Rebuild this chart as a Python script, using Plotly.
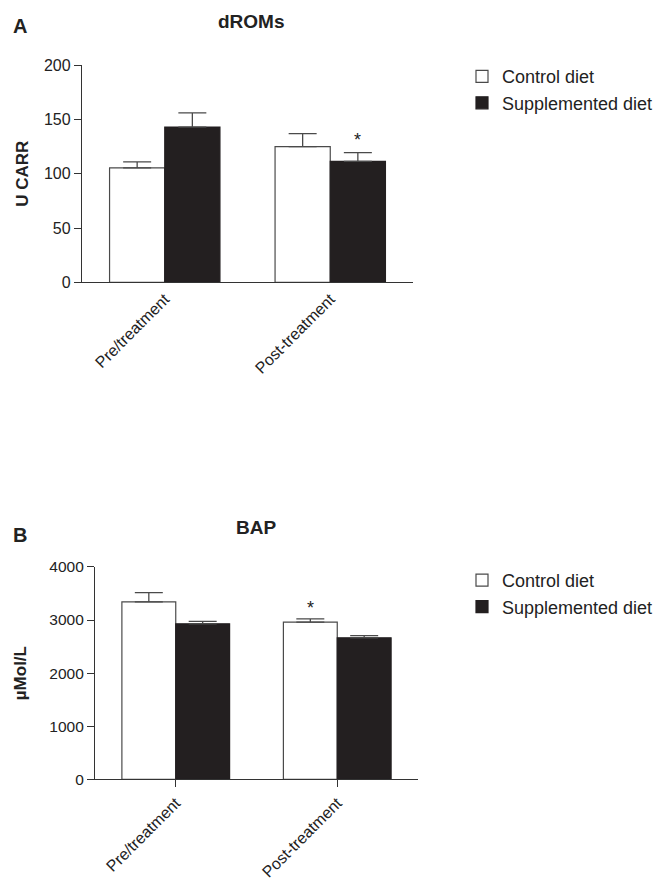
import plotly.graph_objects as go

categories = ["Pre/treatment", "Post-treatment"]
series_names = ["Control diet", "Supplemented diet"]

drom_control = [105.5, 125.0]
drom_control_err = [5.5, 12.0]
drom_supp = [143.0, 111.5]
drom_supp_err = [13.0, 8.0]

bap_control = [3340, 2960]
bap_control_err = [175, 60]
bap_supp = [2930, 2665]
bap_supp_err = [45, 40]

drom_ticks = [0, 50, 100, 150, 200]
bap_ticks = [0, 1000, 2000, 3000, 4000]

OFF = 8
W, H = 668 - 2 * OFF, 889 - 2 * OFF
FONT = "Liberation Sans, Arial, sans-serif"
TXT = "#222222"
AX = "#333333"
BLACK = "#231f20"
EDGE = "#4a4a4a"

# empirical mapping from figure pixels to photographed pixels
SY, OY = 0.981, 16.3


def fx(p):
    return (p - OFF) / W


def fy(p):
    return 1 - ((p - OY) / SY) / H


fig = go.Figure()


def add_pair(ctrl, ctrl_err, supp, supp_err, xa, ya, legend):
    fig.add_trace(go.Bar(
        x=categories, y=ctrl, name=series_names[0], xaxis=xa, yaxis=ya,
        marker=dict(color="white", line=dict(color=EDGE, width=1.2)),
        error_y=dict(type="data", array=ctrl_err, arrayminus=[0] * len(ctrl_err),
                     symmetric=False, color=EDGE, thickness=1.3, width=14),
        legend=legend, offsetgroup="c",
    ))
    fig.add_trace(go.Bar(
        x=categories, y=supp, name=series_names[1], xaxis=xa, yaxis=ya,
        marker=dict(color=BLACK, line=dict(color=BLACK, width=1.2)),
        error_y=dict(type="data", array=supp_err, arrayminus=[0] * len(supp_err),
                     symmetric=False, color=EDGE, thickness=1.3, width=14),
        legend=legend, offsetgroup="s",
    ))


add_pair(drom_control, drom_control_err, drom_supp, drom_supp_err, "x", "y", "legend")
add_pair(bap_control, bap_control_err, bap_supp, bap_supp_err, "x2", "y2", "legend2")

axis_common = dict(showline=True, linecolor=AX, linewidth=1.3, showgrid=False,
                   zeroline=False, tickcolor=AX, ticklen=7, tickwidth=1.3)
tick_font = dict(family=FONT, size=16, color=TXT)
title_font = dict(family=FONT, size=17, color=TXT)
legend_font = dict(family=FONT, size=18, color=TXT)

fig.update_layout(
    width=W, height=H, margin=dict(l=0, r=0, t=0, b=0),
    paper_bgcolor="white", plot_bgcolor="white",
    barmode="group", bargap=0.333, bargroupgap=0,
    font=dict(family=FONT, color=TXT),
    xaxis=dict(domain=[fx(82), fx(413)], anchor="y", type="category",
               range=[-0.5, 1.5], ticks="", tickangle=-45, tickfont=tick_font,
               **axis_common),
    yaxis=dict(domain=[fy(285), fy(65)], anchor="x", range=[0, 200],
               tickvals=drom_ticks, ticks="outside", tickfont=tick_font,
               title=dict(text="<b>U CARR</b>", font=title_font, standoff=10),
               **axis_common),
    xaxis2=dict(domain=[fx(95), fx(418)], anchor="y2", type="category",
                range=[-0.5, 1.5], ticks="outside", tickangle=-45, tickfont=tick_font,
                **axis_common),
    yaxis2=dict(domain=[fy(788), fy(573)], anchor="x2", range=[0, 4000],
                tickvals=bap_ticks, ticks="outside",
                tickfont=dict(family=FONT, size=15.5, color=TXT),
                title=dict(text="<b>µMol/L</b>", font=title_font, standoff=18),
                **axis_common),
    legend=dict(x=fx(462), y=fy(58), xanchor="left", yanchor="top",
                font=legend_font, bgcolor="rgba(0,0,0,0)", tracegroupgap=0),
    legend2=dict(x=fx(462), y=fy(568), xanchor="left", yanchor="top",
                 font=legend_font, bgcolor="rgba(0,0,0,0)", tracegroupgap=0),
)

ann = [
    dict(text="<b>A</b>", x=fx(11), y=fy(25), xref="paper", yref="paper",
         xanchor="left", yanchor="middle", showarrow=False,
         font=dict(family=FONT, size=20, color=TXT)),
    dict(text="<b>dROMs</b>", x=fx(251), y=fy(21), xref="paper", yref="paper",
         xanchor="center", yanchor="middle", showarrow=False,
         font=dict(family=FONT, size=19, color=TXT)),
    dict(text="<b>B</b>", x=fx(11), y=fy(541), xref="paper", yref="paper",
         xanchor="left", yanchor="middle", showarrow=False,
         font=dict(family=FONT, size=20, color=TXT)),
    dict(text="<b>BAP</b>", x=fx(256), y=fy(533), xref="paper", yref="paper",
         xanchor="center", yanchor="middle", showarrow=False,
         font=dict(family=FONT, size=19, color=TXT)),
    # significance stars
    dict(text="*", x=1 + 1 / 6, y=drom_supp[1] + drom_supp_err[1], xref="x", yref="y",
         xanchor="center", yanchor="bottom", yshift=1, showarrow=False,
         font=dict(family=FONT, size=18, color=TXT)),
    dict(text="*", x=1 - 1 / 6, y=bap_control[1] + bap_control_err[1], xref="x2", yref="y2",
         xanchor="center", yanchor="bottom", yshift=-1, showarrow=False,
         font=dict(family=FONT, size=18, color=TXT)),
]
fig.update_layout(annotations=ann)

fig.write_html("out.html")
